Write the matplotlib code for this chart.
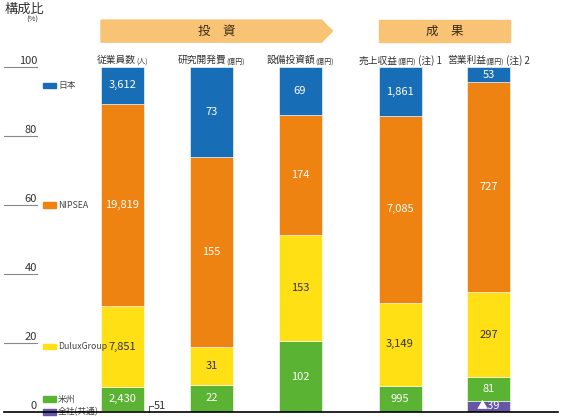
import numpy as np
import matplotlib.pyplot as plt
from matplotlib.patches import Polygon, Rectangle
from matplotlib.offsetbox import TextArea, HPacker, AnnotationBbox

plt.rcParams['font.family'] = ['Noto Sans CJK JP', 'DejaVu Sans']

# data
categories = ["従業員数", "研究開発費", "設備投資額", "売上収益", "営業利益"]
units = ["(人)", "(億円)", "(億円)", "(億円)", "(億円)"]
notes = ["", "", "", " (注) 1", " (注) 2"]
segments = ["全社(共通)", "米州", "DuluxGroup", "NIPSEA", "日本"]
corporate = [51, 0, 0, 0, -39]
americas = [2430, 22, 102, 995, 81]
dulux = [7851, 31, 153, 3149, 297]
nipsea = [19819, 155, 174, 7085, 727]
japan = [3612, 73, 69, 1861, 53]
yticks = [0, 20, 40, 60, 80, 100]

colors = ["#6556a6", "#5ab332", "#ffe014", "#ee8312", "#176db6"]
text_colors = ["white", "white", "#333333", "white", "white"]

# layout (pixel-like x units)
positions = [122.5, 211.5, 300, 400, 488.5]
bar_w = 43

values = np.array([corporate, americas, dulux, nipsea, japan], dtype=float)
pct = np.abs(values) / np.abs(values).sum(axis=0) * 100

fig = plt.figure(figsize=(5.67, 4.17), dpi=100)
ax = fig.add_axes([0, 5 / 417, 1, 345 / 417])
ax.set_xlim(0, 567)
ax.set_ylim(0, 100)
ax.axis('off')

bottom = np.zeros(len(categories))
for i, seg in enumerate(segments):
    ax.bar(positions, pct[i], bar_w, bottom=bottom, color=colors[i],
           edgecolor='white', linewidth=0.4, zorder=2)
    for j, x in enumerate(positions):
        v = values[i, j]
        if v == 0:
            continue
        label = f"{int(v):,}" if v > 0 else f"▲{int(-v)}"
        if pct[i, j] < 2:
            # small segment: label outside with leader
            x0 = x + bar_w / 2 + 5
            ax.plot([x0, x0, x0 + 4], [0, 1.8, 1.8], color='#555555', lw=0.7,
                    clip_on=False, zorder=3)
            ax.text(x0 + 5, 1.8, label, ha='left', va='center', fontsize=8,
                    color='#333333')
        else:
            ax.text(x, bottom[j] + pct[i, j] / 2, label, ha='center', va='center',
                    fontsize=8, color=text_colors[i], zorder=3)
    bottom += pct[i]

# baseline and y ticks
ax.plot([4, 558], [0, 0], color='black', lw=1.2, clip_on=False, zorder=4)
for t in yticks:
    if t > 0:
        ax.plot([4, 37], [t, t], color='#888888', lw=0.8, clip_on=False)
    ax.text(37, t + 0.4, str(t), ha='right', va='bottom', fontsize=8,
            color='#333333')

ax.text(5, 116.8, "構成比", ha='left', va='center', fontsize=9.5, color='#333333')
ax.text(38, 113.6, "(%)", ha='right', va='center', fontsize=5.5, color='#333333')

# legend next to the first bar
centers = pct[:, 0].cumsum() - pct[:, 0] / 2
leg_y = centers.copy()
leg_y[0] = min(centers[0], leg_y[1] - 2.6)
for i, seg in enumerate(segments):
    ax.add_patch(Rectangle((43, leg_y[i] - 0.85), 13, 1.7, color=colors[i],
                           clip_on=False))
    ax.text(58, leg_y[i], seg, ha='left', va='center', fontsize=6.3,
            color='#444444')

# category headers
for j, x in enumerate(positions):
    parts = [TextArea(categories[j], textprops=dict(fontsize=7, color='#333333')),
             TextArea(units[j], textprops=dict(fontsize=5, color='#333333'))]
    if notes[j]:
        parts.append(TextArea(notes[j], textprops=dict(fontsize=7, color='#333333')))
    box = HPacker(children=parts, pad=0, sep=0, align='baseline')
    ab = AnnotationBbox(box, (x, 102.0), frameon=False, box_alignment=(0.5, 0.5),
                        annotation_clip=False)
    ax.add_artist(ab)

# banners
band_lo, band_hi = 107.2, 113.6
x1 = positions[0] - bar_w / 2
x2 = positions[2] + bar_w / 2
ax.add_patch(Polygon([(x1, band_lo), (x2, band_lo), (x2 + 11, (band_lo + band_hi) / 2),
                      (x2, band_hi), (x1, band_hi)], closed=True,
                     color='#f9c375', clip_on=False))
ax.text((x1 + x2 + 11) / 2, (band_lo + band_hi) / 2, "投　資", ha='center',
        va='center', fontsize=9, color='#3a2a12')
x3 = positions[3] - bar_w / 2
x4 = positions[4] + bar_w / 2
ax.add_patch(Rectangle((x3, band_lo), x4 - x3, band_hi - band_lo,
                       color='#f9c375', clip_on=False))
ax.text((x3 + x4) / 2, (band_lo + band_hi) / 2, "成　果", ha='center',
        va='center', fontsize=9, color='#3a2a12')

fig.savefig("out.png", dpi=100)
